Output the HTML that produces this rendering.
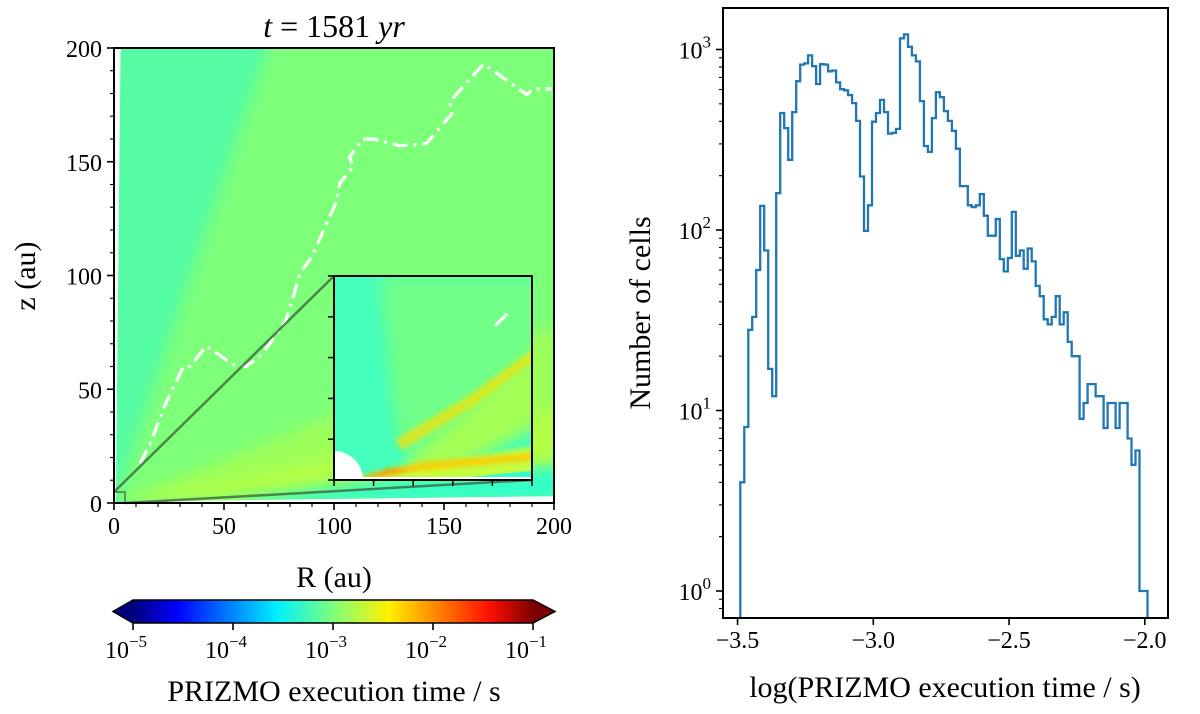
<!DOCTYPE html>
<html><head><meta charset="utf-8"><style>
html,body{margin:0;padding:0;background:#fff;}
svg{display:block;font-family:"Liberation Serif",serif;}
</style></head><body>
<svg id="fig" width="1200" height="714" viewBox="0 0 1200 714" xmlns="http://www.w3.org/2000/svg">
<defs>
  <linearGradient id="jet" x1="0" x2="1" y1="0" y2="0">
    <stop offset="0" stop-color="#00007f"/><stop offset="0.11" stop-color="#0000ff"/>
    <stop offset="0.36" stop-color="#00f0ff"/><stop offset="0.5" stop-color="#7dff7a"/>
    <stop offset="0.64" stop-color="#fff000"/><stop offset="0.89" stop-color="#ff1000"/>
    <stop offset="1" stop-color="#7f0000"/>
  </linearGradient>
  <filter id="blur" filterUnits="userSpaceOnUse" x="0" y="0" width="1200" height="714"><feGaussianBlur stdDeviation="7"/></filter>
  <filter id="blur2" filterUnits="userSpaceOnUse" x="0" y="0" width="1200" height="714"><feGaussianBlur stdDeviation="2.5"/></filter>
  <clipPath id="leftclip"><rect x="114" y="48" width="440" height="455"/></clipPath>
  <clipPath id="insetclip"><rect x="334" y="276" width="198" height="204"/></clipPath>
</defs>
<g id="left"></g>
<g id="right"></g>
</svg>
<script>
// ---- histogram data ----
const histCounts = [4,8.1,28,33,60,136,77,17,12,160,445,367,245,450,667,825,838,927,809,644,829,825,757,765,657,603,594,559,505,402,198,99,137,398,445,526,450,342,345,363,1152,1212,1035,927,859,518,292,271,417,579,545,456,402,354,282,175,175,137,134,137,158,120,93,93,115,69,59,70,126,72,77,61,79,67,49,43,32,30,33,43,30,35,24,20,20,9,11,14,14,12,12,8,11,11,8,11,11,7,5,6,1,1];
const histRange = [-3.49, -1.99];
const xTicks = [-3.5, -3.0, -2.5, -2.0];
const xTickLabels = ["\u22123.5","\u22123.0","\u22122.5","\u22122.0"];
const yDecades = [0,1,2,3];
// ---- left panel data ----
const photoR = [11.8,16.4,23.5,31.5,34.5,42,54,60,66,72,78,81.5,84.5,89.8,96.7,101,102.7,108.8,107,113,118,130,142,153.5,152.7,168,187.6,190.6,199];
const photoZ = [17.3,26,43.7,60,60,69,61,60,64,71.6,80,90.7,101,108,123,132,140.6,148,152,160,160,157,158,171,176.5,193,179.5,182,182];
const auTicks = [0,50,100,150,200];
const cbarExp = [-5,-4,-3,-2,-1];

const NS="http://www.w3.org/2000/svg";
function mk(tag, attrs, parent){const e=document.createElementNS(NS,tag);for(const k in attrs)e.setAttribute(k,attrs[k]);if(parent)parent.appendChild(e);return e;}

// ===== Right panel =====
const R = document.getElementById('right');
const rx0=723, rx1=1168, ry0=8, ry1=618;
const hx = v => 873.3 + (v+3.0)*271.5;
const hy = c => 591 - 180.5*Math.log10(c);
{
  const n=histCounts.length, w=(histRange[1]-histRange[0])/n;
  let d=`M${hx(histRange[0]).toFixed(1)},${ry1+5}`;
  for(let i=0;i<n;i++){
    const xa=hx(histRange[0]+i*w), xb=hx(histRange[0]+(i+1)*w), y=hy(histCounts[i]);
    d+=` L${xa.toFixed(1)},${y.toFixed(1)} L${xb.toFixed(1)},${y.toFixed(1)}`;
  }
  d+=` L${hx(histRange[1]).toFixed(1)},${ry1+5}`;
  const g=mk('g',{'clip-path':'url(#rclip)'},R);
  const cp=mk('clipPath',{id:'rclip'},document.querySelector('defs'));
  mk('rect',{x:rx0,y:ry0,width:rx1-rx0,height:ry1-ry0},cp);
  const p=mk('path',{d:d,fill:'none',stroke:'#1f77b4','stroke-width':2.3,'stroke-linejoin':'miter'},g);
  
  
}
{
  const f=mk('rect',{x:rx0,y:ry0,width:rx1-rx0,height:ry1-ry0,fill:'none',stroke:'#000','stroke-width':2},R);
  
  
}
xTicks.forEach((v,i)=>{
  const x=hx(v);
  mk('line',{x1:x,x2:x,y1:ry1,y2:ry1+7,stroke:'#000','stroke-width':1.6},R);
  const t=mk('text',{x:x,y:ry1+30,'font-size':24,'text-anchor':'middle'},R);
  t.textContent=xTickLabels[i];
  
  
});
yDecades.forEach(d=>{
  const y=hy(Math.pow(10,d));
  mk('line',{x1:rx0-7,x2:rx0,y1:y,y2:y,stroke:'#000','stroke-width':1.6},R);
  const t=mk('text',{x:rx0-12,y:y+9,'font-size':24,'text-anchor':'end'},R);
  t.innerHTML='10<tspan dy="-11" font-size="17">'+d+'</tspan>';
  
  
});
for(let d=-1;d<=3;d++)for(let m=2;m<=9;m++){
  const c=m*Math.pow(10,d), y=hy(c);
  if(y<ry0||y>ry1)continue;
  mk('line',{x1:rx0-4,x2:rx0,y1:y,y2:y,stroke:'#000','stroke-width':1.1},R);
}
{
  const t=mk('text',{x:945,y:697,'font-size':30,'text-anchor':'middle'},R);
  t.textContent='log(PRIZMO execution time / s)';
  
  
  const t2=mk('text',{x:0,y:0,'font-size':30,'text-anchor':'middle',transform:'translate(650,313) rotate(-90)'},R);
  t2.textContent='Number of cells';
  
  
}

// ===== Left panel =====
const L=document.getElementById('left');
const lx0=114, lx1=554, ly0=48, ly1=503;
const ax = r => lx0 + r*(lx1-lx0)/200;
const az = z => ly1 - z*(ly1-ly0)/200;
const pts = a => a.map(p=>ax(p[0]).toFixed(1)+','+az(p[1]).toFixed(1)).join(' ');
const field=mk('g',{'clip-path':'url(#leftclip)'},L);


mk('rect',{x:lx0,y:ly0,width:440,height:455,fill:'#55fca4'},field);
mk('polygon',{points:pts([[0,0],[80,230],[250,230],[250,0]]),fill:'#7dff7a',filter:'url(#blur)'},field);
mk('polygon',{points:pts([[0,0],[220,85],[220,6]]),fill:'#a2ff55',opacity:0.85,filter:'url(#blur)'},field);
mk('polygon',{points:pts([[0,0],[220,45],[220,16]]),fill:'#c4ff3a',opacity:0.55,filter:'url(#blur)'},field);
mk('polygon',{points:pts([[50,0],[220,0],[220,18],[120,10]]),fill:'#2cffd2',opacity:0.9,filter:'url(#blur)'},field);
mk('polygon',{points:pts([[0,0],[200,0],[200,3],[40,1]]),fill:'#fff'},field);
mk('polygon',{points:pts([[0,0],[0,200],[3,200],[0.8,0]]),fill:'#fff'},field);
{
  const p=mk('polyline',{points:photoR.map((r,i)=>ax(r).toFixed(1)+','+az(photoZ[i]).toFixed(1)).join(' '),fill:'none',stroke:'#fff','stroke-width':3.2,'stroke-dasharray':'15,6,3,6'},field);
  
  
}
mk('line',{x1:lx0,y1:492,x2:334,y2:276,stroke:'#3d5a3d','stroke-opacity':0.75,'stroke-width':2.5},L);
mk('line',{x1:125,y1:503,x2:532,y2:480,stroke:'#3d5a3d','stroke-opacity':0.75,'stroke-width':2.5},L);
mk('rect',{x:lx0,y:492,width:11,height:11,fill:'none',stroke:'#3d5a3d','stroke-opacity':0.8,'stroke-width':1.5},L);
{
  const ins=mk('g',{'clip-path':'url(#insetclip)'},L);
  
  
  mk('rect',{x:334,y:276,width:198,height:204,fill:'#45ffbc'},ins);
  mk('polygon',{points:'380,276 560,276 560,420 420,480 395,430',fill:'#78ff80',opacity:0.85,filter:'url(#blur)'},ins);
  mk('polygon',{points:'395,475 560,330 560,410 430,480',fill:'#aaff50',opacity:0.9,filter:'url(#blur)'},ins);
  mk('polygon',{points:'395,440 470,395 540,345 540,355 475,405 402,450',fill:'#ffe000',opacity:0.7,filter:'url(#blur2)'},ins);
  mk('polygon',{points:'360,478 540,445 540,480 360,480',fill:'#d0ff35',opacity:0.9,filter:'url(#blur2)'},ins);
  mk('polygon',{points:'362,476 420,462 540,452 540,460 420,471 362,480',fill:'#ffc800',opacity:0.8,filter:'url(#blur2)'},ins);
  mk('polygon',{points:'364,478 390,468 410,470 364,480',fill:'#ff8a00',opacity:0.7,filter:'url(#blur2)'},ins);
  mk('polygon',{points:'440,480 540,470 540,480',fill:'#30ffd0'},ins);
  mk('rect',{x:334,y:477,width:198,height:3,fill:'#fff'},ins);
  mk('path',{d:'M334,451 A29,29 0 0 1 363,480 L334,480 Z',fill:'#fff'},ins);
  mk('line',{x1:495,y1:326,x2:507,y2:314,stroke:'#fff','stroke-width':3.2},ins);
  mk('rect',{x:334,y:276,width:198,height:204,fill:'none',stroke:'#000','stroke-width':2},L);
  for(let i=0;i<=5;i++){
    const x=334+i*39.6, y=276+i*40.8;
    mk('line',{x1:x,x2:x,y1:480,y2:486,stroke:'#000','stroke-width':1.5},L);
    mk('line',{x1:328,x2:334,y1:y,y2:y,stroke:'#000','stroke-width':1.5},L);
  }
}
mk('rect',{x:lx0,y:ly0,width:440,height:455,fill:'none',stroke:'#000','stroke-width':2},L);
for(let v=0;v<=200;v+=10){
  const major=v%50===0, len=major?7:4, sw=major?1.6:1.1;
  mk('line',{x1:ax(v),x2:ax(v),y1:ly1,y2:ly1+len,stroke:'#000','stroke-width':sw},L);
  mk('line',{x1:lx0-len,x2:lx0,y1:az(v),y2:az(v),stroke:'#000','stroke-width':sw},L);
}
auTicks.forEach(v=>{
  const t=mk('text',{x:ax(v),y:ly1+31,'font-size':24,'text-anchor':'middle'},L);
  t.textContent=v;
  
  
  const t2=mk('text',{x:lx0-12,y:az(v)+9,'font-size':24,'text-anchor':'end'},L);
  t2.textContent=v;
  
  
});
{
  const t=mk('text',{x:334,y:587,'font-size':30,'text-anchor':'middle'},L);
  t.textContent='R (au)';
  
  
  const t2=mk('text',{x:0,y:0,'font-size':30,'text-anchor':'middle',transform:'translate(35,276) rotate(-90)'},L);
  t2.textContent='z (au)';
  
  
  const t3=mk('text',{x:334,y:37,'font-size':32,'text-anchor':'middle'},L);
  t3.innerHTML='<tspan font-style="italic">t</tspan> = 1581 <tspan font-style="italic">yr</tspan>';
  
  
}
{
  const cb=mk('g',{},L);
  
  
  mk('rect',{x:133,y:600,width:400,height:23,fill:'url(#jet)'},cb);
  mk('polygon',{points:'133,600 113,611.5 133,623',fill:'#00007f'},cb);
  mk('polygon',{points:'533,600 555,611.5 533,623',fill:'#7f0000'},cb);
  mk('polygon',{points:'133,600 533,600 555,611.5 533,623 133,623 113,611.5',fill:'none',stroke:'#000','stroke-width':1.5},cb);
  const cx = e => 133 + (e+5)*100;
  cbarExp.forEach(e=>{
    mk('line',{x1:cx(e),x2:cx(e),y1:623,y2:630,stroke:'#000','stroke-width':1.6},cb);
    const t=mk('text',{x:cx(e)-7,y:658,'font-size':24,'text-anchor':'middle'},cb);
    t.innerHTML='10<tspan dy="-11" font-size="17">\u2212'+(-e)+'</tspan>';
    
    
  });
  const t=mk('text',{x:334,y:701,'font-size':30,'text-anchor':'middle'},cb);
  t.textContent='PRIZMO execution time / s';
  
  
}
</script>
</body></html>
